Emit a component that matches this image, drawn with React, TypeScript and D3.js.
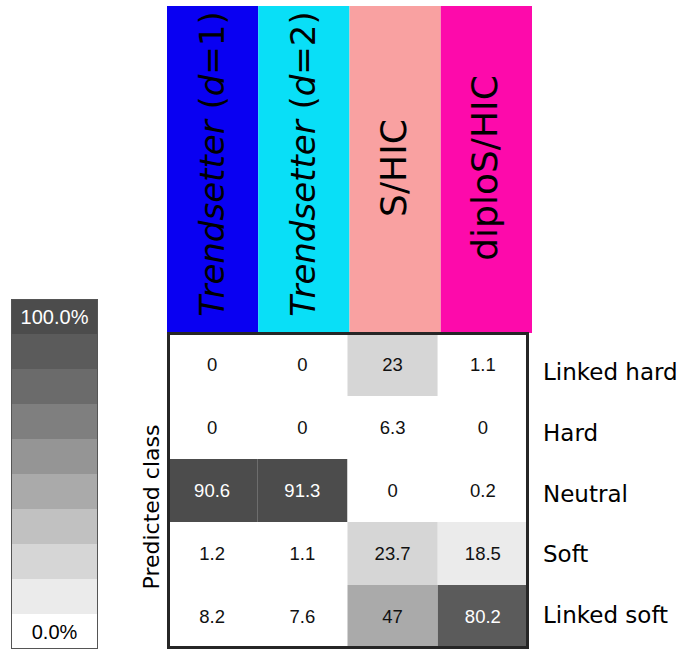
import React from "react";
import * as d3 from "d3";

// Confusion matrix: simulated class (columns) vs predicted class (rows), in percent
const methods = ["ts1", "ts2", "shic", "diploshic"];
const methodColors = ["#0900f2", "#09dff7", "#f9a1a1", "#fd0aab"];
const predictedClasses = ["Linked hard", "Hard", "Neutral", "Soft", "Linked soft"];

const tsD1 = [0, 0, 90.6, 1.2, 8.2];
const tsD2 = [0, 0, 91.3, 1.1, 7.6];
const shic = [23, 6.3, 0, 23.7, 47];
const diploShic = [1.1, 0, 0.2, 18.5, 80.2];
const seriesValues = [tsD1, tsD2, shic, diploShic];

const legendTicks = ["0.0%", "100.0%"];
const greys = [
  "#ffffff", "#ebebeb", "#d6d6d6", "#c1c1c1", "#aaaaaa",
  "#959595", "#7f7f7f", "#6b6b6b", "#5b5b5b", "#4c4c4c",
];

const W = 686;
const H = 650;
const DV = "'DejaVu Sans', Verdana, sans-serif";
const AR = "'Liberation Sans', Arial, sans-serif";

function HeaderLabel({ id }: { id: string }) {
  if (id === "ts1" || id === "ts2") {
    return (
      <>
        <tspan fontStyle="italic">Trendsetter</tspan>
        <tspan> (</tspan>
        <tspan fontStyle="italic">d</tspan>
        <tspan>={id === "ts1" ? "1" : "2"})</tspan>
      </>
    );
  }
  return <>{id === "shic" ? "S/HIC" : "diploS/HIC"}</>;
}

export default function App() {
  const gx = d3.scaleBand<string>().domain(methods).range([167, 528]);
  const hx = d3.scaleBand<string>().domain(methods).range([167, 532]);
  const gy = d3.scaleBand<string>().domain(predictedClasses).range([333, 648]);
  const labelY = d3.scalePoint<string>().domain(predictedClasses).range([380, 623]);
  const color = d3.scaleQuantize<string>().domain([0, 100]).range(greys);

  const legendBins = d3.range(greys.length);
  const ly = d3
    .scaleBand<number>()
    .domain([...legendBins].reverse())
    .range([299, 649]);

  return (
    <div style={{ position: "absolute", left: 0, top: 0 }}>
      <svg width={W} height={H} style={{ display: "block" }}>
        <rect width={W} height={H} fill="#ffffff" />

        {/* column headers */}
        {methods.map((m, i) => (
          <g key={m}>
            <rect
              x={hx(m)!}
              y={6}
              width={hx.bandwidth()}
              height={333 - 6}
              fill={methodColors[i]}
            />
            <text
              transform={`translate(${hx(m)! + hx.bandwidth() / 2 + 11},${i < 2 ? 164 : 168}) rotate(-90)`}
              textAnchor="middle"
              fontFamily={DV}
              fontSize={i < 2 ? 34 : 36}
              fill="#000"
            >
              <HeaderLabel id={m} />
            </text>
          </g>
        ))}

        {/* heat cells */}
        {methods.map((m, ci) =>
          predictedClasses.map((c, ri) => {
            const v = seriesValues[ci][ri];
            return (
              <g key={`${m}-${c}`}>
                <rect
                  x={gx(m)!}
                  y={gy(c)!}
                  width={gx.bandwidth()}
                  height={gy.bandwidth()}
                  fill={color(v)}
                />
                <text
                  x={gx(m)! + gx.bandwidth() / 2}
                  y={gy(c)! + gy.bandwidth() / 2}
                  dy="0.36em"
                  textAnchor="middle"
                  fontFamily={AR}
                  fontSize={18.5}
                  fill={v >= 70 ? "#ffffff" : "#111111"}
                >
                  {String(v)}
                </text>
              </g>
            );
          })
        )}

        {/* grid frame */}
        <rect
          x={168.5}
          y={333.5}
          width={359}
          height={314}
          fill="none"
          stroke="#262626"
          strokeWidth={3}
        />

        {/* row labels */}
        {predictedClasses.map((c) => (
          <text
            key={c}
            x={543}
            y={labelY(c)!}
            fontFamily={DV}
            fontSize={23}
            fill="#000"
          >
            {c}
          </text>
        ))}

        <text
          transform="translate(159,507) rotate(-90)"
          textAnchor="middle"
          fontFamily={DV}
          fontSize={22}
          fill="#000"
        >
          Predicted class
        </text>

        {/* colour legend */}
        {legendBins.map((b) => (
          <rect
            key={b}
            x={11}
            y={ly(b)!}
            width={87}
            height={ly.bandwidth()}
            fill={greys[b]}
          />
        ))}
        <rect
          x={11.5}
          y={299.5}
          width={86}
          height={349}
          fill="none"
          stroke="#555555"
          strokeWidth={1}
        />
        <text
          x={54.5}
          y={ly(legendBins.length - 1)! + ly.bandwidth() / 2}
          dy="0.36em"
          textAnchor="middle"
          fontFamily={AR}
          fontSize={20}
          fill="#ffffff"
        >
          {legendTicks[1]}
        </text>
        <text
          x={54.5}
          y={ly(0)! + ly.bandwidth() / 2}
          dy="0.36em"
          textAnchor="middle"
          fontFamily={AR}
          fontSize={20}
          fill="#000000"
        >
          {legendTicks[0]}
        </text>
      </svg>
    </div>
  );
}
